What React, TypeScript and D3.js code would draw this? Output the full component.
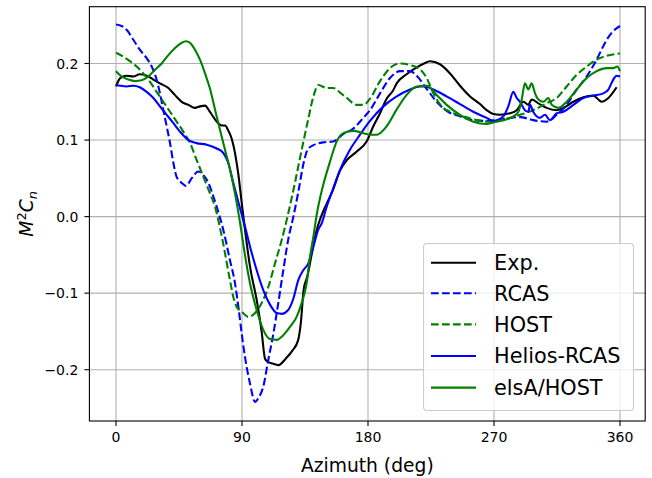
import React from "react";
import * as d3 from "d3";

const W = 652;
const H = 478;

const xTicks = [0, 90, 180, 270, 360];
const yTicks = [-0.2, -0.1, 0.0, 0.1, 0.2];

const expAz = [0, 3, 7.6, 12.4, 17, 22, 26.7, 31.4, 37.4, 42, 46.9, 51.7, 56.4, 60, 63.6, 67, 72, 75.5, 78, 80, 82.6, 85, 87.4, 89.8, 92, 95.7, 100.5, 104, 106.5, 108, 112, 116, 121.5, 126, 130, 132, 134, 136.7, 139.7, 143, 146.5, 150.5, 155, 160, 165, 172, 179, 183.8, 188.6, 193.3, 198, 200.5, 207.6, 214.8, 220, 224.3, 231.4, 238.6, 245.7, 252.9, 260, 264.8, 269.5, 274.3, 281.4, 286.2, 291, 294.5, 296.9, 301.7, 307.6, 314.8, 319.5, 326.7, 333.8, 341, 344.5, 346.9, 351.7, 357.6];
const expCn = [0.170, 0.181, 0.184, 0.183, 0.186, 0.184, 0.179, 0.174, 0.168, 0.159, 0.150, 0.146, 0.142, 0.144, 0.145, 0.137, 0.124, 0.119, 0.119, 0.113, 0.102, 0.083, 0.055, 0.018, -0.015, -0.065, -0.109, -0.150, -0.186, -0.189, -0.192, -0.194, -0.185, -0.175, -0.162, -0.139, -0.096, -0.078, -0.050, -0.020, 0.0, 0.017, 0.035, 0.060, 0.074, 0.085, 0.098, 0.118, 0.135, 0.154, 0.165, 0.174, 0.186, 0.195, 0.200, 0.203, 0.199, 0.187, 0.171, 0.157, 0.147, 0.139, 0.134, 0.133, 0.135, 0.139, 0.150, 0.146, 0.153, 0.148, 0.142, 0.139, 0.142, 0.150, 0.156, 0.158, 0.153, 0.150, 0.155, 0.169];

const rcasAz = [0, 4, 7.6, 12.4, 17, 21.9, 25.5, 29, 31.4, 33.8, 36.2, 38.6, 41, 43.3, 46.9, 50, 54, 58.8, 62.4, 66, 68.3, 71.9, 77, 81.4, 85, 87.4, 89.8, 92.1, 95.7, 99.3, 101.7, 105.2, 108.8, 112.4, 115.9, 119.5, 123, 126.7, 130, 134, 137, 140.7, 147.9, 155, 162.4, 169.5, 176.7, 181.4, 188.6, 195.7, 202.9, 210, 214.8, 221.9, 229, 236.2, 245.7, 255.2, 264.8, 271.4, 279, 288.6, 298, 307.6, 314.8, 321.9, 329, 336.2, 343.3, 350.5, 355, 360];
const rcasCn = [0.251, 0.249, 0.244, 0.231, 0.218, 0.207, 0.196, 0.179, 0.161, 0.139, 0.118, 0.096, 0.070, 0.052, 0.044, 0.040, 0.050, 0.059, 0.054, 0.044, 0.033, 0.013, -0.020, -0.057, -0.087, -0.118, -0.153, -0.183, -0.218, -0.242, -0.237, -0.222, -0.187, -0.153, -0.113, -0.070, -0.030, 0.000, 0.030, 0.070, 0.088, 0.093, 0.097, 0.098, 0.108, 0.115, 0.129, 0.139, 0.161, 0.181, 0.190, 0.190, 0.184, 0.167, 0.150, 0.138, 0.131, 0.126, 0.125, 0.126, 0.128, 0.130, 0.126, 0.124, 0.133, 0.146, 0.166, 0.183, 0.205, 0.231, 0.242, 0.249];

const hostAz = [0, 5.2, 10, 14.8, 19.5, 24.3, 29, 33.8, 38.6, 43.3, 48.1, 52.9, 57.6, 62.4, 67, 70.7, 76, 81.4, 83.8, 86.2, 89.8, 94.5, 99.3, 104, 108.8, 113.6, 118.3, 123, 127.9, 132.6, 137.4, 141, 144.5, 150.5, 155.2, 160, 164.8, 171.9, 176.7, 181.4, 188.6, 195.7, 202.9, 210, 217.4, 221.9, 226.7, 232.6, 238.6, 248, 257.6, 267, 279, 288.6, 298, 307.6, 314.8, 321.9, 329, 336.2, 343.3, 350.5, 360];
const hostCn = [0.214, 0.209, 0.203, 0.196, 0.187, 0.176, 0.163, 0.150, 0.137, 0.124, 0.111, 0.096, 0.074, 0.052, 0.031, 0.013, -0.030, -0.083, -0.105, -0.118, -0.124, -0.131, -0.126, -0.113, -0.092, -0.061, -0.031, 0.004, 0.045, 0.087, 0.128, 0.157, 0.172, 0.168, 0.168, 0.162, 0.155, 0.146, 0.146, 0.154, 0.177, 0.194, 0.200, 0.198, 0.192, 0.181, 0.161, 0.144, 0.137, 0.131, 0.126, 0.124, 0.128, 0.133, 0.139, 0.148, 0.155, 0.170, 0.185, 0.196, 0.205, 0.210, 0.213];

const heliosAz = [0, 2.9, 7.6, 12.4, 17, 21.9, 26.7, 31.4, 36.2, 41, 45.7, 51.7, 57.6, 64.8, 71.9, 76.7, 80.2, 83.8, 88, 92, 95.7, 100.5, 105.2, 110, 114.8, 118.3, 123, 126.7, 130.2, 133.8, 137.4, 141, 144.5, 146.9, 150.5, 155.2, 160, 167, 174.3, 181.4, 191, 200.5, 210, 217.1, 221, 226.7, 236.2, 245.7, 255.2, 264.8, 269.5, 276.7, 280.2, 283.8, 286.2, 288.6, 292.1, 294.5, 295.7, 298, 302.9, 306.4, 310, 314.8, 319.5, 326.7, 333.8, 341, 348, 351.7, 355.2, 357.6, 360];
const heliosCn = [0.172, 0.171, 0.170, 0.171, 0.169, 0.163, 0.155, 0.144, 0.133, 0.122, 0.111, 0.100, 0.096, 0.094, 0.089, 0.083, 0.070, 0.044, 0.015, -0.012, -0.039, -0.070, -0.096, -0.115, -0.126, -0.127, -0.122, -0.107, -0.083, -0.070, -0.061, -0.039, -0.017, -0.009, 0.013, 0.037, 0.061, 0.087, 0.107, 0.125, 0.144, 0.157, 0.166, 0.170, 0.170, 0.166, 0.157, 0.147, 0.137, 0.129, 0.125, 0.131, 0.144, 0.163, 0.155, 0.150, 0.139, 0.137, 0.146, 0.137, 0.129, 0.133, 0.126, 0.135, 0.137, 0.146, 0.155, 0.158, 0.161, 0.166, 0.179, 0.184, 0.183];

const elsaAz = [0, 4, 8.8, 13.6, 18.3, 23.1, 27.9, 32.6, 37.4, 42, 46.9, 50, 52.9, 56.4, 60, 63.6, 67, 70.7, 74.3, 77.9, 81.4, 85, 88.6, 92.1, 95.7, 100.5, 105.2, 110, 114.8, 119.5, 124.3, 129, 132.6, 136.2, 138.6, 141, 143.3, 145.7, 148.1, 152.9, 157.6, 162.4, 169.5, 176.7, 181.4, 186.2, 193.3, 200.5, 207.6, 214.8, 221.9, 229, 236.2, 245.7, 255.2, 264.8, 269.5, 279, 283.8, 287.4, 289.8, 292.1, 294.5, 296.9, 299.3, 301.7, 305.2, 308.8, 311.2, 316, 321.9, 329, 336.2, 343.3, 350.5, 355.2, 358, 360];
const elsaCn = [0.190, 0.183, 0.179, 0.177, 0.178, 0.183, 0.192, 0.200, 0.211, 0.220, 0.227, 0.229, 0.227, 0.218, 0.205, 0.187, 0.168, 0.140, 0.113, 0.087, 0.062, 0.030, -0.008, -0.050, -0.087, -0.122, -0.148, -0.160, -0.161, -0.155, -0.144, -0.131, -0.113, -0.087, -0.052, -0.026, 0.002, 0.024, 0.042, 0.072, 0.098, 0.109, 0.112, 0.109, 0.107, 0.107, 0.118, 0.140, 0.159, 0.170, 0.171, 0.159, 0.146, 0.133, 0.124, 0.121, 0.123, 0.127, 0.131, 0.137, 0.153, 0.174, 0.166, 0.174, 0.161, 0.153, 0.150, 0.155, 0.146, 0.142, 0.150, 0.166, 0.181, 0.190, 0.194, 0.194, 0.196, 0.190];

const seriesNames = ["Exp.", "RCAS", "HOST", "Helios-RCAS", "elsA/HOST"];
const seriesColors = ["#000000", "#0000ff", "#008000", "#0000ff", "#008000"];
const seriesDashed = [false, true, true, false, false];

const FONT = "DejaVu Sans, sans-serif";

export default function App() {
  const left = 89.4, right = 645.2, top = 6.7, bottom = 421;
  const x = d3.scaleLinear().domain([-19, 378]).range([left, right]);
  const y = d3.scaleLinear().domain([-0.267, 0.2742]).range([bottom, top]);

  const azs = [expAz, rcasAz, hostAz, heliosAz, elsaAz];
  const cns = [expCn, rcasCn, hostCn, heliosCn, elsaCn];

  const line = d3
    .line<[number, number]>()
    .x((d) => x(d[0]))
    .y((d) => y(d[1]))
    .curve(d3.curveMonotoneX);

  const fmt = (v: number) => d3.format(".1f")(v).replace("-", "\u2212");

  const dash = "7.7,3.3";
  const lw = 2.1;

  const legX = 423.5, legY = 243.5, legW = 210, legH = 167;
  const rowY = [262.7, 293.3, 324.4, 356, 387.6];

  return (
    <div style={{ position: "absolute", left: 0, top: 0 }}>
      <svg width={W} height={H} style={{ display: "block" }} fontFamily={FONT}>
        <rect x={0} y={0} width={W} height={H} fill="#fff" />
        <defs>
          <clipPath id="plotclip">
            <rect x={left} y={top} width={right - left} height={bottom - top} />
          </clipPath>
        </defs>
        {/* grid */}
        {xTicks.map((t) => (
          <line key={"gx" + t} x1={x(t)} x2={x(t)} y1={top} y2={bottom} stroke="#b0b0b0" strokeWidth={1.1} />
        ))}
        {yTicks.map((t) => (
          <line key={"gy" + t} x1={left} x2={right} y1={y(t)} y2={y(t)} stroke="#b0b0b0" strokeWidth={1.1} />
        ))}
        {/* series */}
        <g clipPath="url(#plotclip)">
          {cns.map((vals, i) => {
            const pts: [number, number][] = vals.map((v, j) => [azs[i][j], v]);
            return (
              <path
                key={seriesNames[i]}
                d={line(pts) || ""}
                fill="none"
                stroke={seriesColors[i]}
                strokeWidth={lw}
                strokeDasharray={seriesDashed[i] ? dash : undefined}
                strokeLinejoin="round"
              />
            );
          })}
        </g>
        {/* frame */}
        <rect x={left} y={top} width={right - left} height={bottom - top} fill="none" stroke="#000" strokeWidth={1.1} />
        {/* x ticks */}
        {xTicks.map((t) => (
          <g key={"xt" + t}>
            <line x1={x(t)} x2={x(t)} y1={bottom} y2={bottom + 5} stroke="#000" strokeWidth={1.1} />
            <text x={x(t)} y={bottom + 21} textAnchor="middle" fontSize={14} fill="#000">
              {t}
            </text>
          </g>
        ))}
        {/* y ticks */}
        {yTicks.map((t) => (
          <g key={"yt" + t}>
            <line x1={left - 5} x2={left} y1={y(t)} y2={y(t)} stroke="#000" strokeWidth={1.1} />
            <text x={left - 11} y={y(t)} dy="0.36em" textAnchor="end" fontSize={14} fill="#000">
              {fmt(t)}
            </text>
          </g>
        ))}
        {/* axis labels */}
        <text x={(left + right) / 2} y={472} textAnchor="middle" fontSize={18.7} fill="#000">
          Azimuth (deg)
        </text>
        <text transform={`translate(33, ${(top + bottom) / 2}) rotate(-90)`} textAnchor="middle" fontSize={18.7} fill="#000">
          <tspan fontStyle="italic">M</tspan>
          <tspan fontSize={13} dy={-7}>2</tspan>
          <tspan fontStyle="italic" dy={7}>C</tspan>
          <tspan fontStyle="italic" fontSize={13} dy={4}>n</tspan>
        </text>
        {/* legend */}
        <rect x={legX} y={legY} width={legW} height={legH} rx={3.5} fill="#fff" fillOpacity={0.8} stroke="#cccccc" strokeWidth={1.1} />
        {seriesNames.map((n, i) => (
          <g key={"lg" + n}>
            <line
              x1={431}
              x2={476}
              y1={rowY[i]}
              y2={rowY[i]}
              stroke={seriesColors[i]}
              strokeWidth={lw}
              strokeDasharray={seriesDashed[i] ? dash : undefined}
            />
            <text x={494} y={rowY[i]} dy="0.36em" fontSize={20.8} fill="#000">
              {n}
            </text>
          </g>
        ))}
      </svg>
    </div>
  );
}
